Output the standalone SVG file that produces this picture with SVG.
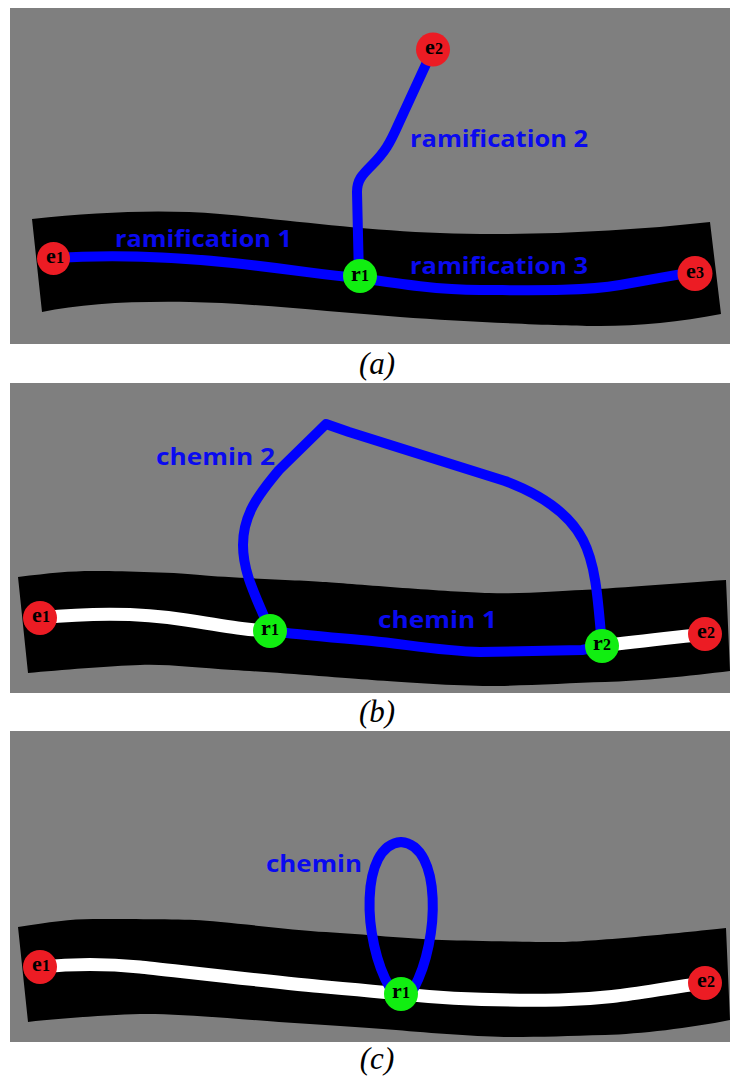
<svg xmlns="http://www.w3.org/2000/svg" width="730" height="1076" viewBox="0 0 730 1076">
<style>
.bg{fill:#7f7f7f}
.band{fill:#000}
.wp{fill:none;stroke:#fff;stroke-width:13;stroke-linejoin:round}
.bp{fill:none;stroke:#0000ff;stroke-width:10;stroke-linejoin:round;stroke-linecap:round}
.red{fill:#ec1c24}
.grn{fill:#11ee11}
.nl{font-family:"Liberation Serif",serif;font-weight:bold;font-size:22px;fill:#000;text-anchor:middle}
.nl tspan{font-size:16px}
.lbl{font-family:"Open Sans","Liberation Sans",sans-serif;font-weight:700;font-size:23px;fill:#0a0aef}
.cap{font-family:"Liberation Serif",serif;font-style:italic;font-size:31px;fill:#000;text-anchor:middle}
</style>
<rect width="730" height="1076" fill="#fff"/>

<!-- Panel a -->
<g id="panel-a">
<rect class="bg" x="10" y="8" width="720" height="336"/>
<path class="band" d="M32,219 C100,212 160,209 220,214 S360,230 440,233 S620,232 710,222 L721,314 C680,322 640,326 600,326 S470,322 400,317 S250,303 190,302 S80,304 42,312 Z"/>
</g>
<g id="connectors-a">
<path class="bp" d="M53,258 C100,255 160,255 233,263 S320,275 360,278"/>
<path class="bp" d="M360,278 C400,284 440,290 480,290 S580,292 620,285 S670,276 694,272"/>
<path class="bp" d="M359,278 L357,192 C357,180 362,175 372,165 C385,152 390,143 398,125 L433,49"/>
</g>
<g id="labels-a">
<text class="lbl" x="115" y="247" textLength="177" lengthAdjust="spacingAndGlyphs">ramification 1</text>
<text class="lbl" x="410" y="147" textLength="178" lengthAdjust="spacingAndGlyphs">ramification 2</text>
<text class="lbl" x="410" y="274" textLength="178" lengthAdjust="spacingAndGlyphs">ramification 3</text>
</g>
<g id="a-e1"><circle class="red" cx="53.5" cy="258.5" r="16.5"/><text class="nl" x="55" y="263">e<tspan>1</tspan></text></g>
<g id="a-e2"><circle class="red" cx="433" cy="49.5" r="17"/><text class="nl" x="434" y="54">e<tspan>2</tspan></text></g>
<g id="a-e3"><circle class="red" cx="695" cy="273.5" r="17.5"/><text class="nl" x="695" y="278">e<tspan>3</tspan></text></g>
<g id="a-r1"><circle class="grn" cx="360" cy="276" r="17"/><text class="nl" x="360" y="281">r<tspan>1</tspan></text></g>
<text class="cap" x="377" y="374">(a)</text>

<!-- Panel b -->
<g id="panel-b">
<rect class="bg" x="10" y="383" width="720" height="310"/>
<path class="band" d="M18,577 C50,573 70,571 93,571 S170,572 200,575 S300,580 326,582 S450,592 489,593 S560,591 582,590 S680,583 726,580 L730,671 C690,676 640,681 605,682 S520,686 489,686 S400,682 372,680 S270,672 233,670 S170,664 140,665 S60,670 28,673 Z"/>
<path class="wp" d="M40,618 C80,614 130,611 186,620 S250,630 270,631"/>
<path class="wp" d="M602,646 C640,641 670,638 705,634"/>
</g>
<g id="connectors-b">
<path class="bp" stroke-width="12" d="M270,631 C300,635 340,638 372,641 S440,651 480,652 L582,650 L602,646"/>
<path class="bp" stroke-width="12" d="M270,631 C258,600 243,575 243,545 C243,515 258,495 279,470 L326,424 L349,432 L505,481 C545,496 570,515 583,540 C596,565 598,600 602,646"/>
</g>
<g id="labels-b">
<text class="lbl" x="156" y="465" textLength="119" lengthAdjust="spacingAndGlyphs">chemin 2</text>
<text class="lbl" x="378" y="628" textLength="119" lengthAdjust="spacingAndGlyphs">chemin 1</text>
</g>
<g id="b-e1"><circle class="red" cx="40" cy="618" r="17"/><text class="nl" x="41" y="622">e<tspan>1</tspan></text></g>
<g id="b-r1"><circle class="grn" cx="270" cy="631" r="17"/><text class="nl" x="270" y="635">r<tspan>1</tspan></text></g>
<g id="b-r2"><circle class="grn" cx="602" cy="646" r="17"/><text class="nl" x="602" y="650">r<tspan>2</tspan></text></g>
<g id="b-e2"><circle class="red" cx="705" cy="634" r="17"/><text class="nl" x="706" y="638">e<tspan>2</tspan></text></g>
<text class="cap" x="377" y="722">(b)</text>

<!-- Panel c -->
<g id="panel-c">
<rect class="bg" x="10" y="731" width="720" height="311"/>
<path class="band" d="M18,927 C50,922 70,919 93,919 S170,919 195,920 S290,930 326,932 S410,939 442,940 S530,942 559,942 S680,933 726,928 L730,1020 C690,1028 640,1034 605,1035 S540,1037 512,1037 S430,1033 396,1030 S320,1025 279,1022 S170,1013 140,1014 S60,1018 28,1022 Z"/>
<path class="wp" d="M40,967 C80,963 120,965 140,967 S280,983 326,987 S380,992 401,994 C440,998 500,1001 559,1000 S650,990 705,983"/>
</g>
<g id="connectors-c">
<path class="bp" d="M390,988 C362,940 360,845 401,842 C442,845 440,940 414,988"/>
</g>
<g id="labels-c">
<text class="lbl" x="266" y="872" textLength="96" lengthAdjust="spacingAndGlyphs">chemin</text>
</g>
<g id="c-e1"><circle class="red" cx="40" cy="967" r="17"/><text class="nl" x="41" y="971">e<tspan>1</tspan></text></g>
<g id="c-r1"><circle class="grn" cx="401" cy="994" r="17"/><text class="nl" x="401" y="998">r<tspan>1</tspan></text></g>
<g id="c-e2"><circle class="red" cx="705" cy="983" r="17"/><text class="nl" x="706" y="987">e<tspan>2</tspan></text></g>
<text class="cap" x="377" y="1069">(c)</text>
</svg>
